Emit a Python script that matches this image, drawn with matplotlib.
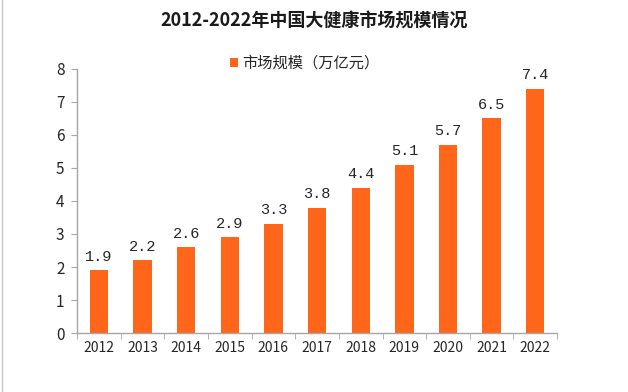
import matplotlib
matplotlib.use('Agg')
import matplotlib.pyplot as plt
from matplotlib.ticker import MultipleLocator, FixedLocator
from matplotlib.lines import Line2D

plt.rcParams['font.family'] = ['Noto Sans CJK SC', 'DejaVu Sans']

years = ['2012', '2013', '2014', '2015', '2016', '2017',
         '2018', '2019', '2020', '2021', '2022']
values = [1.9, 2.2, 2.6, 2.9, 3.3, 3.8, 4.4, 5.1, 5.7, 6.5, 7.4]

bar_color = '#FF661A'
axis_color = '#A6A6A6'

fig = plt.figure(figsize=(6.28, 3.92), dpi=100)
ax = fig.add_axes([0.1226, 0.1505, 0.7645, 0.6735])

x = range(len(years))
ax.bar(x, values, width=0.42, color=bar_color, label='市场规模（万亿元）', zorder=2)

# Value labels above bars
for xi, v in zip(x, values):
    ax.text(xi, v + 0.2, f'{v:.1f}', ha='center', va='bottom',
            fontsize=11, family='Liberation Mono', color='#262626')

ax.set_xlim(-0.5, len(years) - 0.5)
ax.set_ylim(0, 8)
ax.yaxis.set_major_locator(MultipleLocator(1))

# Category labels at centers, tick marks at boundaries
ax.set_xticks(list(x))
ax.set_xticklabels(years)
ax.tick_params(axis='x', which='major', length=0, pad=6, labelsize=10, labelcolor='#262626')
ax.xaxis.set_minor_locator(FixedLocator([i - 0.5 for i in range(len(years) + 1)]))
ax.tick_params(axis='x', which='minor', length=4, color=axis_color, direction='out')
ax.tick_params(axis='y', length=4, color=axis_color, labelsize=11, labelcolor='#262626', pad=5)

for s in ['top', 'right']:
    ax.spines[s].set_visible(False)
for s in ['left', 'bottom']:
    ax.spines[s].set_color(axis_color)
    ax.spines[s].set_linewidth(1.0)

fig.text(0.5, 0.945, '2012-2022年中国大健康市场规模情况', ha='center', va='center',
         fontsize=13, fontweight='bold', color='#1a1a1a')

leg = ax.legend(loc='upper center', bbox_to_anchor=(0.475, 1.105), frameon=False,
                fontsize=11, handlelength=0.5, handleheight=0.5, handletextpad=0.3)
for t in leg.get_texts():
    t.set_color('#262626')

# Thin light line along the left edge of the picture
fig.lines.append(Line2D([0.003, 0.003], [0, 1], transform=fig.transFigure,
                        color='#C8C8C8', linewidth=1.0))

fig.savefig('out.png', dpi=100)
